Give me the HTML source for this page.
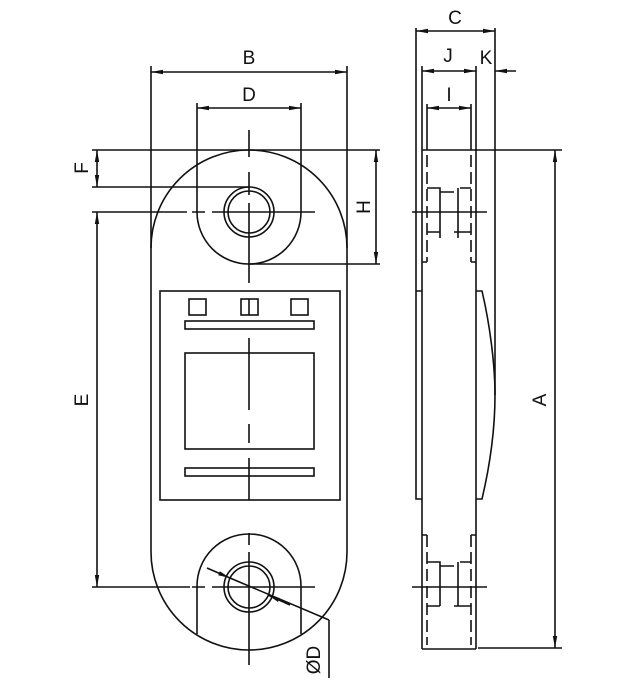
<!DOCTYPE html>
<html><head><meta charset="utf-8"><style>html,body{margin:0;padding:0;background:#fff}svg{display:block}</style></head>
<body>
<svg width="637" height="681" viewBox="0 0 637 681" xmlns="http://www.w3.org/2000/svg">
<defs>
<marker id="a" markerWidth="12" markerHeight="6" refX="12" refY="3" orient="auto-start-reverse" markerUnits="userSpaceOnUse"><path d="M0,0.8 L12,3 L0,5.2 z" fill="#111"/></marker>
</defs>
<g stroke="#111" stroke-width="1.6" fill="none">
<path d="M151,248 A98,98 0 0 1 347,248 L347,552 A98,98 0 0 1 151,552 Z"/>
<line x1="151" y1="66" x2="151" y2="248"/><line x1="347" y1="66" x2="347" y2="248"/>
<path d="M197,103 L197,212 A52,52 0 0 0 301,212 L301,103"/>
<circle cx="249" cy="212" r="25"/><circle cx="249" cy="212" r="21"/>
<path d="M197,634 L197,586 A52,52 0 0 1 301,586 L301,634"/>
<circle cx="249" cy="587" r="25"/><circle cx="249" cy="587" r="21"/>
<line x1="92" y1="150" x2="380" y2="150"/>
<line x1="92" y1="187" x2="249" y2="187"/>
<line x1="249" y1="264" x2="380" y2="264"/>
<line x1="92" y1="212" x2="187" y2="212"/>
<line x1="92" y1="587" x2="190" y2="587"/>
<line x1="151" y1="72" x2="347" y2="72" marker-start="url(#a)" marker-end="url(#a)"/>
<line x1="197" y1="108" x2="301" y2="108" marker-start="url(#a)" marker-end="url(#a)"/>
<line x1="97" y1="150" x2="97" y2="187" marker-start="url(#a)" marker-end="url(#a)"/>
<line x1="97" y1="212" x2="97" y2="587" marker-start="url(#a)" marker-end="url(#a)"/>
<line x1="376" y1="150" x2="376" y2="264" marker-start="url(#a)" marker-end="url(#a)"/>
<path d="M249,130 V157 M249,172 V195 M249,203 V283 M192,212 H205 M212,212 H315"/>
<path d="M249,338 V410 M249,424 V443 M249,458 V500 M249,533 V545 M249,552 V665"/>
<path d="M192,587 H205 M212,587 H315"/>
<rect x="160" y="291" width="180" height="209"/>
<rect x="189" y="299" width="17" height="16"/><rect x="241" y="299" width="17" height="16"/><line x1="249" y1="299" x2="249" y2="315"/><rect x="291" y="299" width="17" height="16"/>
<rect x="185" y="321" width="129" height="8"/>
<rect x="185" y="353" width="129" height="96"/>
<rect x="185" y="468" width="129" height="8"/>
<line x1="207" y1="568" x2="230" y2="578" marker-end="url(#a)"/>
<line x1="230" y1="578" x2="329" y2="620"/>
<line x1="290" y1="605" x2="268" y2="595" marker-end="url(#a)"/>
<line x1="329" y1="620" x2="329" y2="678"/>
<path d="M416,28 V499 H422"/>
<line x1="495" y1="28" x2="495" y2="395"/>
<line x1="422" y1="66" x2="422" y2="649"/>
<line x1="476" y1="66" x2="476" y2="649"/>
<line x1="422" y1="649" x2="476" y2="649"/>
<path d="M416,291 H422 M476,291 H482 C490,325 495,365 495,395 C495,430 490,465 482,499 H476"/>
<line x1="427" y1="104" x2="427" y2="150"/><line x1="471" y1="104" x2="471" y2="150"/>
<line x1="416" y1="31" x2="495" y2="31" marker-start="url(#a)" marker-end="url(#a)"/>
<line x1="422" y1="71" x2="476" y2="71" marker-start="url(#a)" marker-end="url(#a)"/>
<line x1="516" y1="71" x2="495" y2="71" marker-end="url(#a)"/>
<line x1="427" y1="108" x2="471" y2="108" marker-start="url(#a)" marker-end="url(#a)"/>
<line x1="422" y1="150" x2="562" y2="150"/>
<line x1="478" y1="648" x2="562" y2="648"/>
<line x1="555" y1="150" x2="555" y2="648" marker-start="url(#a)" marker-end="url(#a)"/>
<g stroke-dasharray="12,5">
<line x1="427" y1="155" x2="427" y2="262"/><line x1="471" y1="155" x2="471" y2="262"/>
<line x1="427" y1="535" x2="427" y2="645"/><line x1="471" y1="535" x2="471" y2="645"/>
</g>
<path d="M422,262 H427 M471,262 H476 M422,535 H427 M471,535 H476"/>
<path d="M427,188 H440 V192 H454 M460,188 H471 M427,232 H440 M440,192 V232 M454,232 H471 M458,188 V232 M458,232 V238 M440,232 V238"/>
<path d="M427,562 H440 V566 H454 M460,562 H471 M427,606 H440 M440,566 V606 M454,606 H471 M458,562 V606"/>
<line x1="412" y1="212" x2="487" y2="212"/>
<line x1="412" y1="587" x2="487" y2="587"/>
</g>
<g font-family="Liberation Sans, sans-serif" font-size="19" fill="#111">
<text x="249" y="64" text-anchor="middle">B</text>
<text x="249" y="101" text-anchor="middle">D</text>
<text x="455" y="24" text-anchor="middle">C</text>
<text x="448" y="62" text-anchor="middle">J</text>
<text x="486" y="64" text-anchor="middle">K</text>
<text x="449" y="101" text-anchor="middle">I</text>
<text transform="translate(88,168) rotate(-90)" text-anchor="middle">F</text>
<text transform="translate(88,400) rotate(-90)" text-anchor="middle">E</text>
<text transform="translate(370,207) rotate(-90)" text-anchor="middle">H</text>
<text transform="translate(546,400) rotate(-90)" text-anchor="middle">A</text>
<text transform="translate(320,660) rotate(-90)" text-anchor="middle">ØD</text>
</g>
</svg>
</body></html>
